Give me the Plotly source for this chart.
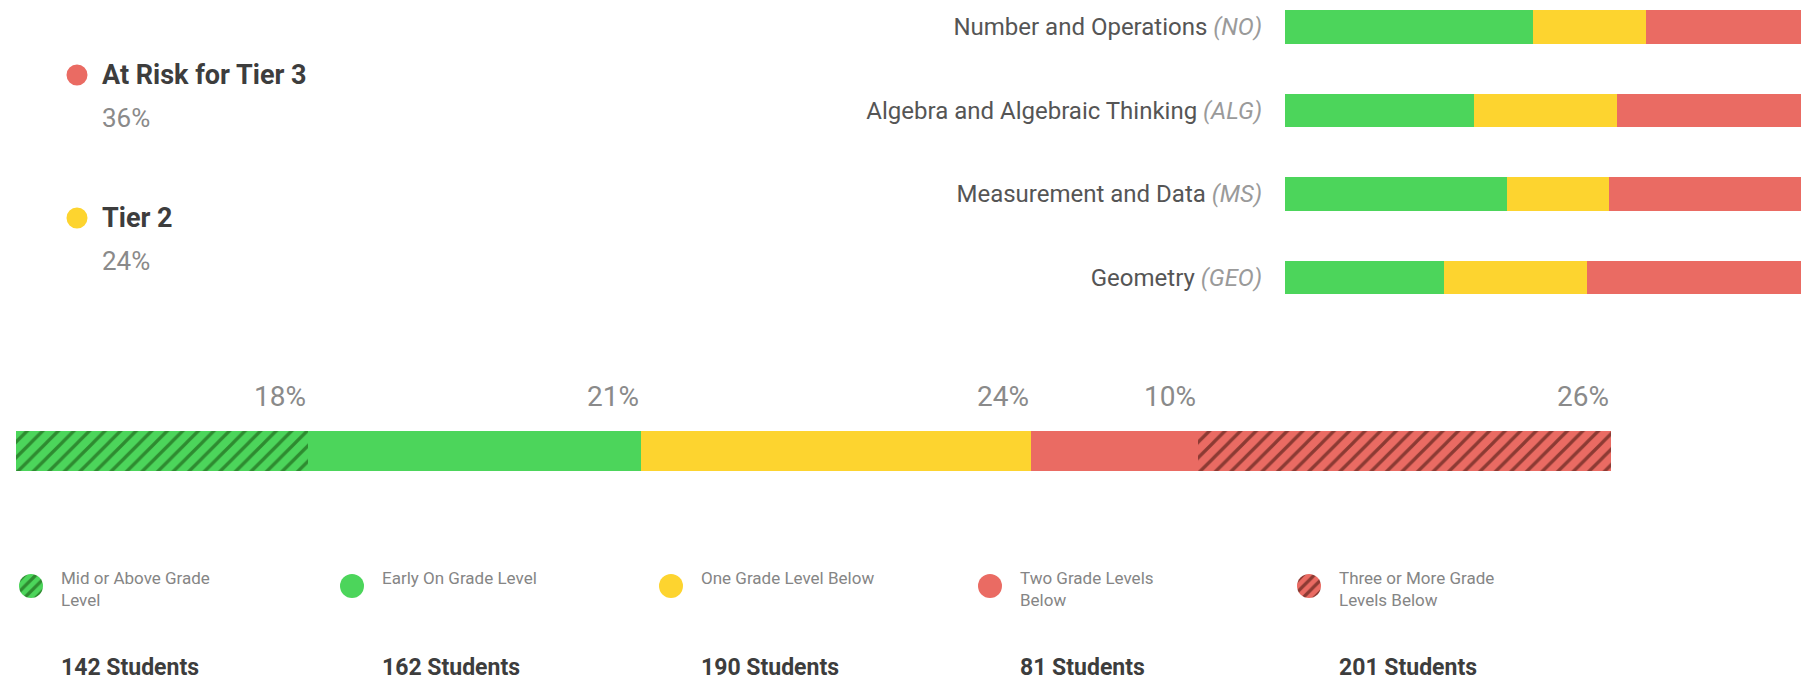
import plotly.graph_objects as go

W, H = 1801, 684

# ---- data ----
levels = ["Mid or Above Grade<br>Level", "Early On Grade Level", "One Grade Level Below",
          "Two Grade Levels<br>Below", "Three or More Grade<br>Levels Below"]
students = [142, 162, 190, 81, 201]
pct_labels = ["18%", "21%", "24%", "10%", "26%"]

domains = ["Number and Operations", "Algebra and Algebraic Thinking", "Measurement and Data", "Geometry"]
domain_abbr = ["NO", "ALG", "MS", "GEO"]
dom_green = [48.1, 36.7, 43.1, 30.9]
dom_yellow = [21.8, 27.7, 19.7, 27.6]
dom_red = [30.1, 35.6, 37.2, 41.5]

tiers = ["At Risk for Tier 3", "Tier 2"]
tier_pct = ["36%", "24%"]

# ---- styles ----
GREEN, YELLOW, RED = "#4CD55B", "#FDD42F", "#EA6B63"
DGREEN, DRED = "#2E8B30", "#8C3A33"
seg_colors = [GREEN, GREEN, YELLOW, RED, RED]
seg_hatch = [DGREEN, None, None, None, DRED]
FONT = "Roboto"

def px(x):
    return x / W

def py(y):
    return 1 - y / H

fig = go.Figure()

# main stacked bar
for i, (lab, n) in enumerate(zip(levels, students)):
    marker = dict(color=seg_colors[i], line=dict(width=0))
    if seg_hatch[i]:
        marker["pattern"] = dict(shape="/", fgcolor=seg_hatch[i], bgcolor=seg_colors[i],
                                 size=11, solidity=0.3, fillmode="replace")
    fig.add_trace(go.Bar(x=[n], y=[0], orientation="h", width=1, marker=marker,
                         xaxis="x", yaxis="y", showlegend=False, hoverinfo="skip"))

# domain bars
ypos = list(range(len(domains)))
for vals, col in [(dom_green, GREEN), (dom_yellow, YELLOW), (dom_red, RED)]:
    fig.add_trace(go.Bar(x=vals, y=ypos, orientation="h", width=0.40,
                         marker=dict(color=col, line=dict(width=0)),
                         xaxis="x2", yaxis="y2", showlegend=False, hoverinfo="skip"))

total = sum(students)
ann = []
cum = 0
for n, p in zip(students, pct_labels):
    cum += n
    ann.append(dict(x=cum, y=py(397), xref="x", yref="paper", text=p, showarrow=False,
                    xanchor="right", yanchor="middle",
                    font=dict(family=FONT, size=28, color="#8a8a8a")))

# bottom legend
icon_x = [31, 352, 671, 990, 1309]
icon_d = 24
for i, lab in enumerate(levels):
    cx, cy = icon_x[i], 586
    marker = dict(colors=[seg_colors[i]], line=dict(width=0))
    if seg_hatch[i]:
        marker["pattern"] = dict(shape="/", fgcolor=seg_hatch[i], bgcolor=seg_colors[i],
                                 size=8, solidity=0.4, fillmode="replace")
    fig.add_trace(go.Pie(values=[1], marker=marker, textinfo="none", hoverinfo="skip",
                         sort=False, showlegend=False,
                         domain=dict(x=[px(cx - icon_d / 2), px(cx + icon_d / 2)],
                                     y=[py(cy + icon_d / 2), py(cy - icon_d / 2)])))
    ann.append(dict(x=px(cx + 28), y=py(566), xref="paper", yref="paper", text=lab,
                    showarrow=False, xanchor="left", yanchor="top", align="left",
                    font=dict(family=FONT, size=17, color="#858585")))
    ann.append(dict(x=px(cx + 28), y=py(667), xref="paper", yref="paper",
                    text=f"<b>{students[i]} Students</b>",
                    showarrow=False, xanchor="left", yanchor="middle",
                    font=dict(family=FONT, size=23, color="#3d3d3d")))

# top-left tier legend
tier_cols = [RED, YELLOW]
tier_y = [75, 218]
for t, p, c, ty in zip(tiers, tier_pct, tier_cols, tier_y):
    d = 21
    fig.add_trace(go.Pie(values=[1], marker=dict(colors=[c], line=dict(width=0)),
                         textinfo="none", hoverinfo="skip", showlegend=False,
                         domain=dict(x=[px(77 - d / 2), px(77 + d / 2)],
                                     y=[py(ty + d / 2), py(ty - d / 2)])))
    ann.append(dict(x=px(100), y=py(ty), xref="paper", yref="paper", text=f"<b>{t}</b>",
                    showarrow=False, xanchor="left", yanchor="middle",
                    font=dict(family=FONT, size=27, color="#3d3d3d")))
    ann.append(dict(x=px(100), y=py(ty + 43), xref="paper", yref="paper", text=p,
                    showarrow=False, xanchor="left", yanchor="middle",
                    font=dict(family=FONT, size=26, color="#8a8a8a")))

ticktext = [f"{d} <span style='color:#9a9a9a'><i>({a})</i></span>" for d, a in zip(domains, domain_abbr)]

fig.update_layout(
    width=W, height=H, margin=dict(l=0, r=0, t=0, b=0),
    paper_bgcolor="white", plot_bgcolor="white", barmode="stack", bargap=0,
    annotations=ann,
    xaxis=dict(domain=[px(16), px(1611)], range=[0, total], visible=False, fixedrange=True),
    yaxis=dict(domain=[py(491), py(411)], range=[-1, 1], visible=False, fixedrange=True),
    xaxis2=dict(domain=[px(1285), 1], range=[0, 100], visible=False, anchor="y2"),
    yaxis2=dict(domain=[py(318), 1], range=[3.485, -0.323], anchor="x2",
                tickvals=ypos, ticktext=ticktext, showgrid=False, zeroline=False,
                showline=False, ticks="", ticklabelstandoff=22,
                tickfont=dict(family=FONT, size=24, color="#555555")),
)

fig.write_html("out.html", config={"displayModeBar": False},
               post_script="document.body.style.margin='0px';document.body.style.overflow='hidden';")
